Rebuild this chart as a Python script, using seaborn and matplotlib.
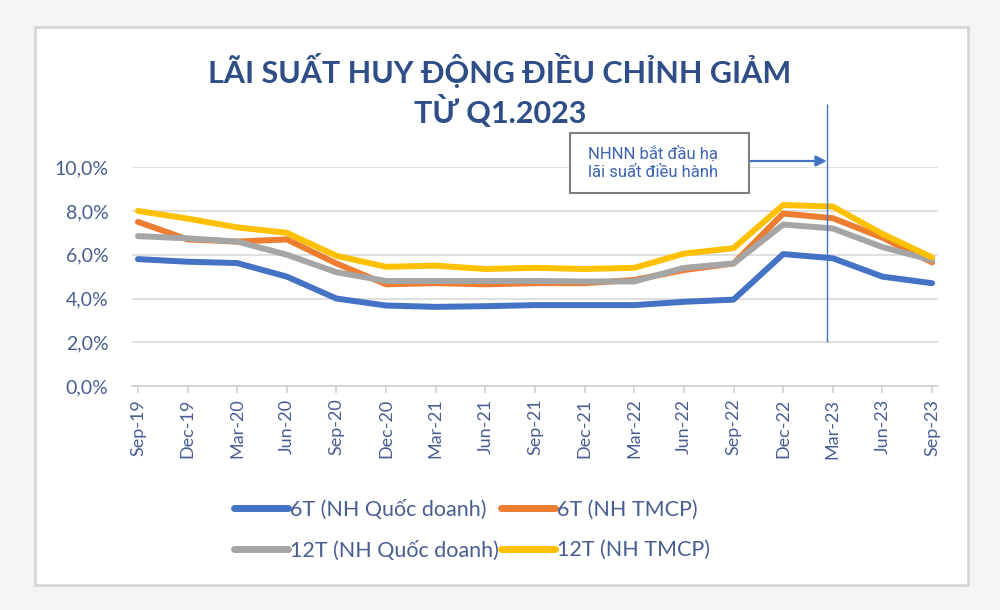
import matplotlib
matplotlib.use('Agg')
import matplotlib.pyplot as plt
import seaborn as sns
import pandas as pd
from matplotlib.patches import Rectangle
from matplotlib.lines import Line2D

# ---------------- data ----------------
periods = ['Sep-19', 'Dec-19', 'Mar-20', 'Jun-20', 'Sep-20', 'Dec-20', 'Mar-21', 'Jun-21',
           'Sep-21', 'Dec-21', 'Mar-22', 'Jun-22', 'Sep-22', 'Dec-22', 'Mar-23', 'Jun-23', 'Sep-23']
qd_6t = [5.8, 5.68, 5.62, 5.0, 4.0, 3.68, 3.62, 3.65, 3.7, 3.7, 3.7, 3.85, 3.95, 6.03, 5.84, 5.0, 4.7]
tmcp_6t = [7.5, 6.7, 6.6, 6.7, 5.6, 4.65, 4.7, 4.65, 4.7, 4.7, 4.85, 5.3, 5.6, 7.88, 7.67, 6.78, 5.65]
qd_12t = [6.85, 6.75, 6.6, 6.0, 5.2, 4.8, 4.8, 4.8, 4.8, 4.78, 4.78, 5.4, 5.6, 7.38, 7.2, 6.35, 5.75]
tmcp_12t = [8.0, 7.65, 7.25, 7.0, 5.95, 5.45, 5.5, 5.35, 5.4, 5.35, 5.4, 6.05, 6.3, 8.27, 8.2, 6.95, 5.88]

series_names = ['6T (NH Quốc doanh)', '6T (NH TMCP)', '12T (NH Quốc doanh)', '12T (NH TMCP)']
series_values = [qd_6t, tmcp_6t, qd_12t, tmcp_12t]
colors = ['#4472c4', '#ed7d31', '#a5a5a5', '#ffc000']

y_ticks = [0, 2, 4, 6, 8, 10]
y_tick_labels = ['0,0%', '2,0%', '4,0%', '6,0%', '8,0%', '10,0%']

title_lines = ['LÃI SUẤT HUY ĐỘNG ĐIỀU CHỈNH GIẢM', 'TỪ Q1.2023']
note_text = 'NHNN bắt đầu hạ\nlãi suất điều hành'
policy_period = 'Mar-23'

# ---------------- dataframe ----------------
rows = []
for name, vals in zip(series_names, series_values):
    for i, (p, v) in enumerate(zip(periods, vals)):
        rows.append({'idx': i, 'period': p, 'value': v, 'series': name})
df = pd.DataFrame(rows)

# ---------------- style ----------------
sns.set_theme(style='white')
plt.rcParams['font.family'] = ['Lato', 'Open Sans', 'DejaVu Sans']

title_color = '#2f4d87'
label_color = '#4a5d93'
grid_color = '#d9d9d9'

fig = plt.figure(figsize=(10, 6.1), dpi=100, facecolor='#f4f4f4')
panel = Rectangle((0.035, 0.041), 0.933, 0.915, transform=fig.transFigure,
                  facecolor='white', edgecolor='#d6d6d6', lw=2, zorder=-5)
fig.patches.append(panel)

ax = fig.add_axes([0.132, 0.367, 0.806, 0.359])
ax.set_zorder(1)
ax.patch.set_alpha(0)

sns.lineplot(data=df, x='idx', y='value', hue='series', hue_order=series_names,
             palette=colors, linewidth=4.3, sort=False, legend=False, ax=ax)
for ln in ax.lines:
    ln.set_solid_capstyle('round')
    ln.set_solid_joinstyle('round')

ax.set_xlim(-0.12, len(periods) - 1 + 0.12)
ax.set_ylim(0, 10)
ax.set_xlabel('')
ax.set_ylabel('')

ax.set_yticks(y_ticks)
ax.set_yticklabels(y_tick_labels, color=label_color, fontsize=14)
ax.set_xticks(range(len(periods)))
ax.set_xticklabels(periods, rotation=90, color=label_color, fontsize=13)
ax.tick_params(axis='y', length=0, pad=17)
ax.tick_params(axis='x', length=5, width=1.2, color='#d0d0d0', direction='out', pad=4, bottom=True)

ax.yaxis.grid(True, color=grid_color, lw=1.2)
ax.xaxis.grid(False)
ax.set_axisbelow(True)
for s in ['top', 'right', 'left']:
    ax.spines[s].set_visible(False)
ax.spines['bottom'].set_color('#d0d0d0')
ax.spines['bottom'].set_linewidth(1.2)

# vertical policy line
vx = periods.index(policy_period) - 0.12
ax.vlines(vx, 2.0, 12.9, colors='#4472c4', lw=1.0, clip_on=False, zorder=5)

arrow_y = 1 - 161 / 610
ax.annotate('', xy=(vx, arrow_y), xycoords=('data', 'figure fraction'),
            xytext=(0.749, arrow_y), textcoords='figure fraction',
            arrowprops=dict(arrowstyle='-|>', color='#4472c4', lw=1.6, mutation_scale=16,
                            shrinkA=0, shrinkB=0), annotation_clip=False)

# annotation box (above axes)
box = Rectangle((0.570, 0.6836), 0.179, 0.0984, transform=fig.transFigure,
                facecolor='white', edgecolor='#7f7f7f', lw=1.5, zorder=3)
fig.patches.append(box)
fig.text(0.588, 0.733, note_text, ha='left', va='center', fontsize=12,
         family=['Roboto', 'DejaVu Sans'], color='#3d63b2', linespacing=1.2, zorder=4)

# title
fig.text(0.5, 1 - 70 / 610, title_lines[0], ha='center', va='center', fontsize=22,
         weight='bold', color=title_color)
fig.text(0.5, 1 - 112 / 610, title_lines[1], ha='center', va='center', fontsize=22,
         weight='bold', color=title_color)

# legend
handles = [Line2D([0], [0], color=c, lw=5, solid_capstyle='round') for c in colors]
order = [0, 2, 1, 3]
fig.legend([handles[i] for i in order], [series_names[i] for i in order],
           loc='center', bbox_to_anchor=(0.472, 0.131), ncol=2, frameon=False,
           fontsize=15.5, handlelength=2.5, handletextpad=0.1, columnspacing=0.1,
           labelspacing=0.95, labelcolor=label_color)

fig.savefig('out.png', dpi=100, facecolor=fig.get_facecolor())
